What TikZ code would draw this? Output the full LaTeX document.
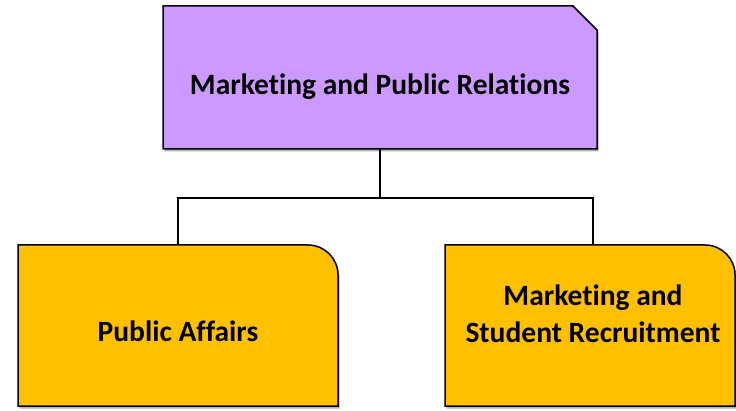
\documentclass[tikz,border=0pt]{standalone}
\usepackage{fontspec}
\setmainfont[Ligatures=NoCommon]{Carlito}
\definecolor{L}{RGB}{204,153,255}
\definecolor{Y}{RGB}{255,192,0}
\usetikzlibrary{positioning}
\tikzstyle{base}=[inner sep=0pt, outer sep=0pt]
\tikzstyle{shade}=[preaction={fill=black, opacity=0.3, transform canvas={shift={(1.5pt,-2.5pt)}}}]
\tikzstyle{box}=[draw=black, line width=1.5pt, shade]
\tikzstyle{wire}=[black, line width=1.2pt]

\begin{document}
\begin{tikzpicture}[base, x=1pt, y=-1pt]
    \fontsize{29.5}{37}\selectfont\bfseries
        \path [use as bounding box] (0,0) rectangle (736,411);
        % boxes
        \draw [box, fill=L] (163,149) -- (163,6) -- (573,6) -- (597,30) -- (597,149) -- cycle;
        \draw [box, fill=Y] (18,406) -- (18,245) [rounded corners=30pt] -- (338,245) [sharp corners] -- (338,406) -- cycle;
        \draw [box, fill=Y] (445,406) -- (445,245) [rounded corners=30pt] -- (735,245) [sharp corners] -- (735,406) -- cycle;
        \node [minimum width=434pt, minimum height=143pt] (mpr) at (380,77.5) {};
        \node [] at (380,87) {Marketing and Public Relations};
        \node [minimum width=320pt, minimum height=161pt] (pa) at (178,325.5) {};
        \node [] at (178,331) {Public Affairs};
        \node [minimum width=290pt, minimum height=161pt] (msr) at (593,325.5) {};
        \node [align=center] at (593,314) {Marketing and\\Student Recruitment};
        % connectors
        \coordinate (bus) at (380,198);
        \draw [wire] (mpr.south) -- (bus) -| (pa.north);
        \draw [wire] (bus) -| (msr.north);
    \end{tikzpicture}
\end{document}
